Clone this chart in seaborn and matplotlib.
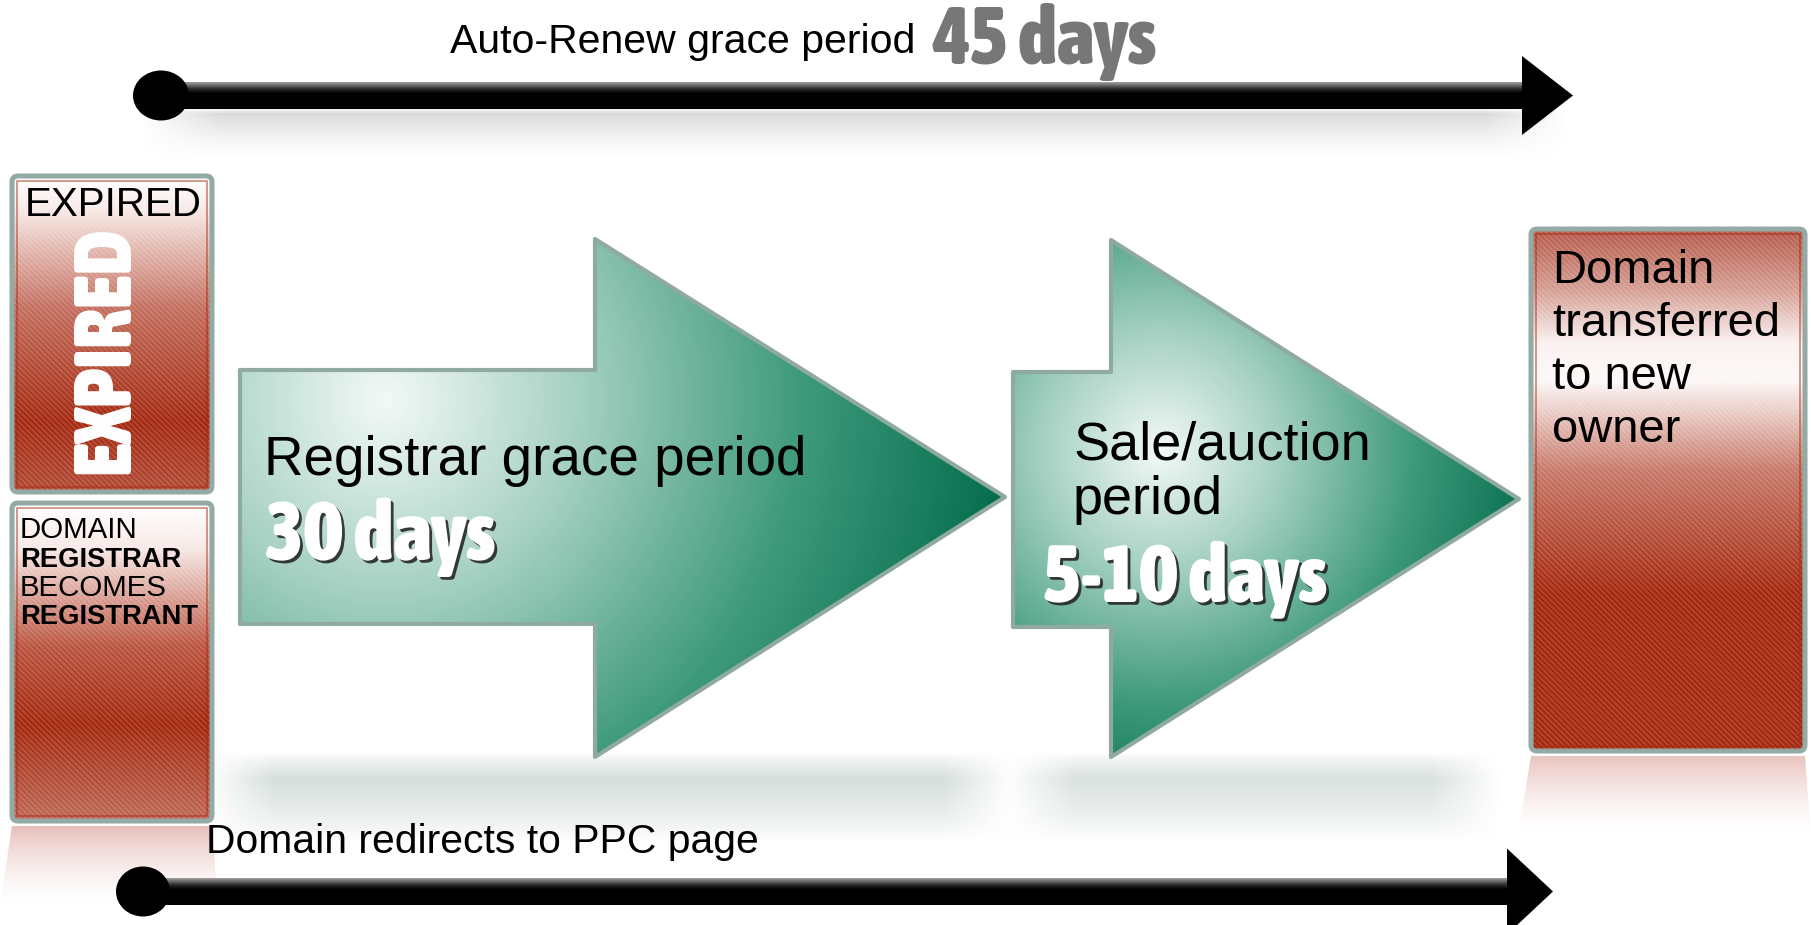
import numpy as np
import matplotlib
matplotlib.use("Agg")
import matplotlib.pyplot as plt
import seaborn as sns
from matplotlib.patches import Polygon, FancyBboxPatch, Ellipse, Rectangle
from matplotlib.collections import LineCollection
from matplotlib.colors import LinearSegmentedColormap, to_rgba
from matplotlib.textpath import TextPath
import matplotlib.patheffects as pe
from matplotlib import font_manager as fm

# ---------------- data (texts of the diagram) ----------------
top_timeline_label = "Auto-Renew grace period"
top_timeline_days = "45 days"
bottom_timeline_label = "Domain redirects to PPC page"
stage_labels = ["Registrar grace period", "Sale/auction\nperiod"]
stage_days = ["30 days", "5-10 days"]
expired_caption = "EXPIRED"
expired_stamp = "EXPIRED"
registrar_lines = ["DOMAIN", "REGISTRAR", "BECOMES", "REGISTRANT"]
registrar_bold = [False, True, False, True]
final_lines = ["Domain", "transferred", "to new", "owner"]

# ---------------- setup ----------------
sns.set_theme(style="white")
plt.rcParams['font.family'] = ['Liberation Sans', 'DejaVu Sans']

W, H = 1811, 925
fig = plt.figure(figsize=(W / 100, H / 100), dpi=100, facecolor='white')
ax = fig.add_axes([0, 0, 1, 1])
ax.set_xlim(0, W)
ax.set_ylim(H, 0)
ax.axis('off')
renderer = fig.canvas.get_renderer()


def find_condensed():
    best, bestscore = None, -1
    for f in fm.fontManager.ttflist:
        name = f.name.lower()
        st = str(f.stretch).lower()
        if not ('condensed' in st or 'narrow' in name or 'condensed' in name):
            continue
        if f.style != 'normal':
            continue
        w = f.weight
        if isinstance(w, str):
            w = fm.weight_dict.get(w, 400)
        if w > bestscore:
            best, bestscore = f, w
    if best is not None:
        return fm.FontProperties(fname=best.fname)
    return fm.FontProperties(family='DejaVu Sans', weight='bold')


cond = find_condensed()


def fit_text(x, y, s, width=None, height=None, size=None, **kw):
    t = ax.text(x, y, s, **kw)
    t.set_fontsize(20)
    if size is not None:
        t.set_fontsize(size)
        return t
    bb = t.get_window_extent(renderer)
    if width is not None:
        t.set_fontsize(20 * width / bb.width)
    else:
        t.set_fontsize(20 * height / bb.height)
    return t


def cap_size(token, prop, cap_px):
    """font size (pt) so that the ink height of token equals cap_px pixels"""
    h = TextPath((0, 0), token, size=100, prop=prop).get_extents().height
    return cap_px / (h / 100.0) * 0.72


def width_size(s, prop, width_px):
    t = ax.text(0, 0, s, fontproperties=prop)
    t.set_fontsize(20)
    w = t.get_window_extent(renderer).width
    t.remove()
    return 20 * width_px / w


def soft_band(x0, x1, y0, y1, yp, color, amax, fade=60, power=1.5):
    xs = np.arange(x0, x1)
    ys = np.arange(y0, y1)
    ay = np.where(ys < yp, (ys - y0) / max(yp - y0, 1), (y1 - ys) / max(y1 - yp, 1))
    ay = np.clip(ay, 0, 1) ** power
    axx = np.clip(np.minimum(xs - x0, x1 - xs) / fade, 0, 1)
    A = amax * ay[:, None] * axx[None, :]
    img = np.zeros((len(ys), len(xs), 4))
    img[..., :3] = to_rgba(color)[:3]
    img[..., 3] = A
    ax.imshow(img, extent=(x0, x1, y1, y0), origin='upper', aspect='auto',
              zorder=1, interpolation='bilinear')


def reflection(pts, y0, y1, color, amax):
    poly = Polygon(pts, closed=True, fc='none', ec='none', zorder=1)
    ax.add_patch(poly)
    xs = [p[0] for p in pts]
    n = int(y1 - y0)
    a = amax * (1 - np.linspace(0, 1, n)) ** 1.6
    img = np.zeros((n, 2, 4))
    img[..., :3] = to_rgba(color)[:3]
    img[..., 3] = a[:, None]
    im = ax.imshow(img, extent=(min(xs), max(xs), y1, y0), origin='upper',
                   aspect='auto', zorder=1, interpolation='bilinear')
    im.set_clip_path(poly)


green_cmap = LinearSegmentedColormap.from_list(
    'g', [(0, '#f3f9f6'), (0.3, '#a6d1c2'), (0.65, '#3f9a7c'), (1, '#006a4a')])


def green_arrow(bx0, by0, by1, hx, hy0, hy1, tipx, tipy, cx, cy, r):
    pts = [(bx0, by0), (hx, by0), (hx, hy0), (tipx, tipy), (hx, hy1), (hx, by1), (bx0, by1)]
    poly = Polygon(pts, closed=True, fc='none', ec='#90aaa1', lw=3, joinstyle='round', zorder=3.2)
    ax.add_patch(poly)
    xs = np.arange(bx0, tipx + 1)
    ys = np.arange(hy0, hy1 + 1)
    X, Y = np.meshgrid(xs, ys)
    d = np.hypot(X - cx, Y - cy) / r
    img = green_cmap(np.clip(d, 0, 1))
    im = ax.imshow(img, extent=(bx0, tipx, hy1, hy0), origin='upper', zorder=3,
                   aspect='auto', interpolation='bilinear')
    im.set_clip_path(poly)


def red_box(x0, y0, x1, y1, stops):
    cm = LinearSegmentedColormap.from_list('r', stops)
    patch = FancyBboxPatch((x0, y0), x1 - x0, y1 - y0,
                           boxstyle='round,pad=0,rounding_size=6',
                           fc='none', ec='#93aba4', lw=3.6, zorder=3.3)
    ax.add_patch(patch)
    n = int(y1 - y0)
    img = cm(np.linspace(0, 1, n))[:, None, :]
    im = ax.imshow(img, extent=(x0, x1, y1, y0), origin='upper', aspect='auto',
                   zorder=3, interpolation='bilinear')
    im.set_clip_path(patch)
    h = y1 - y0
    segs = [[(c, y0), (c + h, y1)] for c in np.arange(x0 - h, x1, 5.5)]
    lc = LineCollection(segs, colors=[(1, 1, 1, 0.2)], linewidths=0.8, zorder=3.1)
    ax.add_collection(lc)
    lc.set_clip_path(patch)
    inner = Rectangle((x0 + 5, y0 + 5), x1 - x0 - 10, y1 - y0 - 10, fc='none',
                      ec=(0.64, 0.16, 0.06, 0.55), lw=1.2, zorder=3.15)
    ax.add_patch(inner)


line_cmap = LinearSegmentedColormap.from_list(
    'k', [(0, '#a0a0a0'), (0.25, '#2a2a2a'), (0.42, '#000000'), (1, '#000000')])


def timeline(cx, cy, x_head, tip, half_line, half_head, ew, eh):
    y0, y1 = cy - half_line, cy + half_line
    rect = Rectangle((cx, y0), x_head - cx + 1, 2 * half_line, fc='none', ec='none', zorder=4)
    ax.add_patch(rect)
    img = line_cmap(np.linspace(0, 1, 60))[:, None, :]
    im = ax.imshow(img, extent=(cx, x_head + 1, y1, y0), origin='upper', aspect='auto',
                   zorder=4, interpolation='bilinear')
    im.set_clip_path(rect)
    ax.add_patch(Polygon([(x_head, cy - half_head), (tip, cy), (x_head, cy + half_head)],
                         closed=True, fc='black', ec='none', zorder=4.1))
    ax.add_patch(Ellipse((cx, cy), ew, eh, fc='black', ec='none', zorder=4.2))


# ---------------- soft shadows & reflections ----------------
soft_band(140, 1565, 106, 160, 113, '#bdbdbd', 0.55, fade=80)
soft_band(205, 1012, 752, 840, 778, '#b4c4be', 0.55, fade=70, power=0.8)
soft_band(1005, 1500, 752, 840, 778, '#b4c4be', 0.5, fade=70, power=0.8)
reflection([(12, 826), (212, 826), (218, 905), (0, 905)], 826, 905, '#d38a80', 0.55)
reflection([(1531, 756), (1805, 756), (1811, 835), (1518, 835)], 756, 835, '#d38a80', 0.5)

# ---------------- red boxes ----------------
red_box(12, 176, 212, 492, [(0, '#ffffff'), (0.1, '#f8ebe8'), (0.42, '#c46e5e'),
                            (0.78, '#a52a12'), (1, '#b34c38')])
red_box(12, 503, 212, 821, [(0, '#ffffff'), (0.14, '#f8e9e6'), (0.45, '#bb5541'),
                            (0.7, '#a4290f'), (1, '#c06a59')])
red_box(1531, 229, 1805, 751, [(0, '#b65a4a'), (0.11, '#d49c91'), (0.22, '#fbf3f2'),
                               (0.29, '#fdf8f7'), (0.46, '#c87a6b'), (0.7, '#a6290f'),
                               (1, '#a62c14')])

# ---------------- green arrows ----------------
green_arrow(240, 370, 624, 595, 239, 757, 1005, 497, 385, 400, 640)
green_arrow(1013, 372, 627, 1111, 240, 757, 1519, 499, 1160, 450, 390)

# ---------------- black timelines ----------------
timeline(161, 95.5, 1522, 1573, 13.5, 39.5, 56, 50)
timeline(143, 891.5, 1507, 1553, 13.5, 43, 54, 50)

# ---------------- texts ----------------
shadow = [pe.withSimplePatchShadow(offset=(2, -2), shadow_rgbFace='#1e1e1e', alpha=0.85)]


def heavy_text(x, yb, s, width_px, cap_px, **kw):
    token = s.split(" ")[0]
    size = np.sqrt(width_size(s, cond, width_px) * cap_size(token, cond, cap_px))
    return fit_text(x, yb, s, size=size, va='baseline', fontproperties=cond, zorder=6, **kw)


fit_text(450, 53, top_timeline_label, width=463, va='baseline', color='black', zorder=6)
heavy_text(933, 64, top_timeline_days, 256, 50, color='#777777')
fit_text(206, 853, bottom_timeline_label, width=551, va='baseline', color='black', zorder=6)

fit_text(264, 475, stage_labels[0], width=540, va='baseline', color='black', zorder=6)
heavy_text(265, 560, stage_days[0], 262, 52, color='white', path_effects=shadow)

sale_l1, sale_l2 = stage_labels[1].split("\n")
t = fit_text(1073, 459, sale_l1, width=297, va='baseline', color='black', zorder=6)
fit_text(1073, 514, sale_l2, size=t.get_fontsize(), va='baseline', color='black', zorder=6)
heavy_text(1043, 602, stage_days[1], 316, 52, color='white', path_effects=shadow)

# right box
fs_final = width_size(final_lines[1], fm.FontProperties(family='Liberation Sans'), 227)
for line, yb in zip(final_lines, [283, 336, 389, 442]):
    fit_text(1552, yb, line, size=fs_final, va='baseline', color='black', zorder=6)

# left box 1
fit_text(25, 216, expired_caption, width=177, va='baseline', color='black', zorder=6)
stamp_size = min(1.1 * width_size(expired_stamp, cond, 225),
                 cap_size(expired_stamp, cond, 69))
fit_text(107, 350, expired_stamp, size=stamp_size, rotation=90, ha='center', va='center',
         color='white', fontproperties=cond, zorder=6)

# left box 2
widths_ref = [127, 161, 135, 177]
sizes = []
for line, b, wdt in zip(registrar_lines, registrar_bold, widths_ref):
    fp = fm.FontProperties(family='Liberation Sans', weight='bold' if b else 'normal')
    sizes.append(width_size(line, fp, wdt))
fs_reg = np.mean([s for s, b in zip(sizes, registrar_bold) if not b])
fs_bold = np.mean([s for s, b in zip(sizes, registrar_bold) if b])
for line, b, yb in zip(registrar_lines, registrar_bold, [538, 567, 596, 624]):
    fit_text(20, yb, line, size=fs_bold if b else fs_reg, va='baseline', color='black',
             fontweight='bold' if b else 'normal', zorder=6)

ax.set_xlim(0, W)
ax.set_ylim(H, 0)
fig.savefig('out.png', dpi=100, facecolor='white')
